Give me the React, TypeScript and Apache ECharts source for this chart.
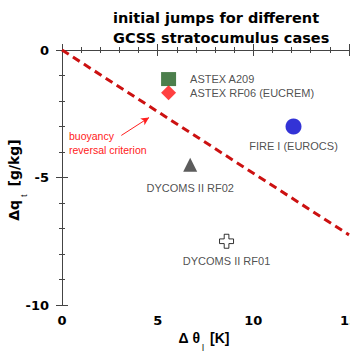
import React, { useEffect, useRef } from "react";
import * as echarts from "echarts";

const caseNames = ["ASTEX A209", "ASTEX RF06 (EUCREM)", "FIRE I (EUROCS)", "DYCOMS II RF02", "DYCOMS II RF01"];
const dThetaL = [5.57, 5.57, 12.1, 6.7, 8.6];
const dQt = [-1.14, -1.68, -3.0, -4.5, -7.5];
const criterionX = [0, 15];
const criterionY = [0, -7.25];
const arrowFrom = [3.1, -3.35];
const arrowTo = [4.55, -2.65];
const xTickRange = [0, 15, 5];
const yTickRange = [-10, 0, 5];

const FONT = "'Liberation Sans', Arial, sans-serif";
const BOLD_FONT = "'DejaVu Sans', 'Liberation Sans', sans-serif";

export default function App() {
  const ref = useRef<HTMLDivElement>(null);
  useEffect(() => {
    if (!ref.current) return;
    const chart = echarts.init(ref.current, undefined, { renderer: "svg" });
    const axisLine = { show: true, lineStyle: { color: "#444", width: 1 } };
    const axisTick = { show: true, inside: true, length: 6, lineStyle: { color: "#444" } };
    const minorTick = { show: true, splitNumber: 5, length: 3, lineStyle: { color: "#444" } };
    const labelStyle = { fontFamily: BOLD_FONT, fontWeight: "bold" as const, fontSize: 13, color: "#000" };

    const styles = [
      { symbol: "rect", size: [15, 14], color: "#1f5f1f", border: "#1f5f1f", pos: "right", dist: 14 },
      { symbol: "diamond", size: [15, 15], color: "#ff1010", border: "#ff1010", pos: "right", dist: 14 },
      { symbol: "circle", size: 16, color: "#0000cc", border: "#0000cc", pos: "bottom", dist: 6 },
      { symbol: "triangle", size: [14, 14], color: "#333333", border: "#333333", pos: "bottom", dist: 11 },
      {
        symbol: "path://M1,0H2V1H3V2H2V3H1V2H0V1H1Z",
        size: [14, 14],
        color: "#ffffff",
        border: "#000000",
        pos: "bottom",
        dist: 7,
      },
    ];

    const points = caseNames.map((name, i) => ({
      value: [dThetaL[i], dQt[i]],
      name,
      symbol: styles[i].symbol,
      symbolSize: styles[i].size,
      itemStyle: { color: styles[i].color, borderColor: styles[i].border, borderWidth: i === 4 ? 1 : 0 },
      label: {
        show: true,
        formatter: name,
        position: styles[i].pos,
        distance: styles[i].dist,
        fontFamily: FONT,
        fontSize: 11,
        color: "#222",
      },
    }));

    chart.setOption({
      animation: false,
      grid: { left: 62, top: 50, right: 1, bottom: 55, containLabel: false, outerBoundsMode: "none" },
      xAxis: [
        {
          type: "value",
          min: xTickRange[0],
          max: xTickRange[1],
          interval: xTickRange[2],
          position: "bottom",
          axisLine,
          axisTick,
          minorTick,
          splitLine: { show: false },
          axisLabel: { ...labelStyle, margin: 9 },
        },
        {
          type: "value",
          min: xTickRange[0],
          max: xTickRange[1],
          interval: xTickRange[2],
          position: "top",
          axisLine,
          axisTick,
          minorTick,
          splitLine: { show: false },
          axisLabel: { show: false },
        },
      ],
      yAxis: [
        {
          type: "value",
          min: yTickRange[0],
          max: yTickRange[1],
          interval: yTickRange[2],
          position: "left",
          axisLine,
          axisTick,
          minorTick,
          splitLine: { show: false },
          axisLabel: { ...labelStyle, margin: 13 },
        },
        {
          type: "value",
          min: yTickRange[0],
          max: yTickRange[1],
          interval: yTickRange[2],
          position: "right",
          axisLine,
          axisTick,
          minorTick,
          splitLine: { show: false },
          axisLabel: { show: false },
        },
      ],
      series: [
        {
          type: "line",
          data: criterionX.map((x, i) => [x, criterionY[i]]),
          symbol: "none",
          lineStyle: { color: "#cc1111", width: 3, type: [8, 5] },
          silent: true,
          z: 1,
          markLine: {
            silent: true,
            symbol: ["none", "arrow"],
            symbolSize: [6, 8],
            label: { show: false },
            lineStyle: { color: "#ff2020", width: 1, type: "solid" },
            data: [[{ coord: arrowFrom }, { coord: arrowTo }]],
          },
        },
        {
          type: "scatter",
          data: points,
          z: 3,
        },
      ],
      graphic: [
        {
          type: "text",
          left: 113,
          top: 8,
          style: {
            text: "initial jumps for different\nGCSS stratocumulus cases",
            fontFamily: BOLD_FONT,
            fontWeight: "bold",
            fontSize: 14.5,
            lineHeight: 20,
            fill: "#000",
          },
        },
        {
          type: "text",
          x: 69,
          y: 129,
          style: {
            text: "buoyancy\nreversal criterion",
            fontFamily: FONT,
            fontSize: 10.5,
            lineHeight: 14,
            fill: "#ff2020",
          },
        },
        {
          type: "text",
          x: 204,
          y: 340,
          style: {
            text: "{a|Δ θ}{s|l}{a| [K]}",
            align: "center",
            verticalAlign: "middle",
            rich: {
              a: { fontFamily: FONT, fontWeight: "bold", fontSize: 14, fill: "#000", lineHeight: 24, verticalAlign: "top", padding: [3, 0, 0, 0] },
              s: { fontFamily: FONT, fontSize: 9, fill: "#000", lineHeight: 24, verticalAlign: "bottom", padding: [0, 2, 0, 2] },
            },
          },
        },
        {
          type: "text",
          x: 16,
          y: 180,
          rotation: Math.PI / 2,
          style: {
            text: "{a|Δq}{s|t}{a| [g/kg]}",
            align: "center",
            verticalAlign: "middle",
            rich: {
              a: { fontFamily: BOLD_FONT, fontWeight: "bold", fontSize: 14, fill: "#000", lineHeight: 24, verticalAlign: "top", padding: [3, 0, 0, 0] },
              s: { fontFamily: FONT, fontSize: 9, fill: "#000", lineHeight: 24, verticalAlign: "bottom", padding: [0, 3, 0, 3] },
            },
          },
        },
      ],
    });
    return () => chart.dispose();
  }, []);
  return <div ref={ref} style={{ width: 350, height: 360, position: "absolute", left: 0, top: 0 }} />;
}
